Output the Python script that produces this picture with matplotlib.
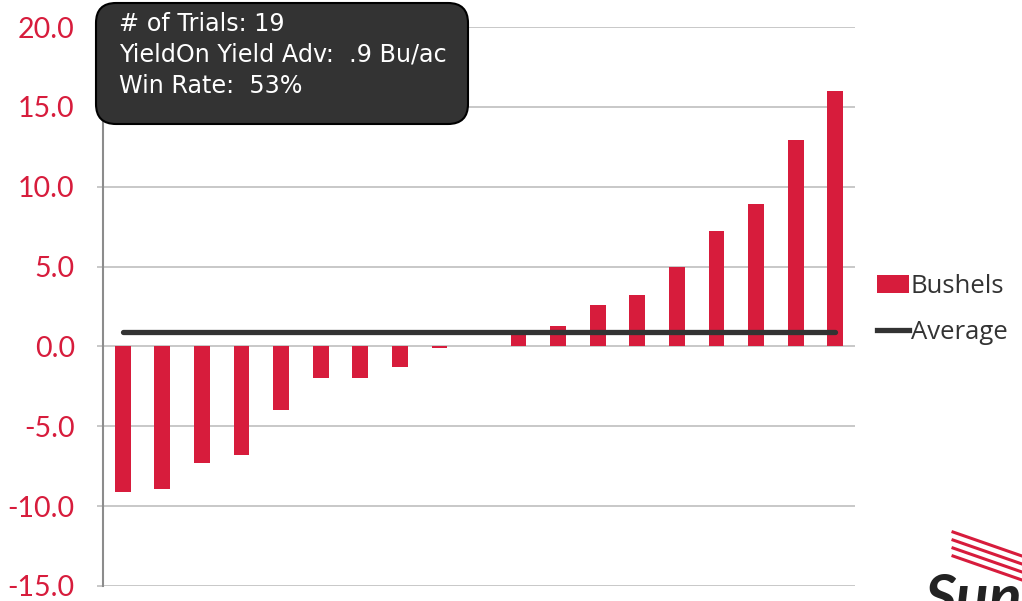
"""Yield advantage by trial: sorted bars with average line."""

import matplotlib.pyplot as plt
from matplotlib.patches import FancyBboxPatch, Patch
from matplotlib.lines import Line2D
from matplotlib.transforms import IdentityTransform

# data (bu/ac difference per trial, sorted)
trials = list(range(1, 20))
bushels = [-9.1, -8.9, -7.3, -6.8, -4.0, -2.0, -2.0, -1.3, -0.1, 0.0,
           0.9, 1.3, 2.6, 3.2, 5.0, 7.2, 8.9, 12.9, 16.0]
average = 0.9
y_ticks = [-15, -10, -5, 0, 5, 10, 15, 20]
info_lines = ["# of Trials: 19", "YieldOn Yield Adv:  .9 Bu/ac", "Win Rate:  53%"]

RED = "#D71C3C"
DARK = "#333333"
GRID = "#BFBFBF"

plt.rcParams["font.family"] = ["Lato", "DejaVu Sans"]

fig = plt.figure(figsize=(10.22, 6.01), dpi=100)
ax = fig.add_axes([103 / 1022, 15 / 601, 752 / 1022, 559 / 601])

x = list(range(len(bushels)))
ax.bar(x, bushels, width=0.4, color=RED, zorder=2, label="Bushels")
ax.plot([x[0], x[-1]], [average] * 2, color=DARK, lw=3.8, zorder=3,
        solid_capstyle="round", label="Average")

ax.set_xlim(-0.5, len(bushels) - 0.5)
ax.set_ylim(y_ticks[0], y_ticks[-1])
ax.set_yticks(y_ticks)
ax.set_yticklabels([f"{v:.1f}" for v in y_ticks], color=RED, fontsize=20.5)
ax.set_xticks([])
ax.yaxis.grid(True, color=GRID, lw=1.2, zorder=0)
ax.tick_params(axis="y", length=4.3, color=GRID, width=1.2, pad=16)
for side in ["top", "right", "bottom"]:
    ax.spines[side].set_visible(False)
ax.spines["left"].set_color("#8C8C8C")
ax.spines["left"].set_linewidth(1.5)

handles = [Patch(facecolor=RED), Line2D([], [], color=DARK, lw=3.8)]
ax.legend(handles, ["Bushels", "Average"], loc="center left",
          bbox_to_anchor=(1.029, 0.495), frameon=False,
          prop={"family": ["Open Sans", "DejaVu Sans"], "size": 18.5},
          borderpad=0, borderaxespad=0, handlelength=1.25,
          handletextpad=0.08, labelspacing=0.8, labelcolor="#333333")

# info box in the top-left corner (pixel coordinates)
box = FancyBboxPatch((96, 601 - 124), 372, 121,
                     boxstyle="round,pad=0,rounding_size=20",
                     transform=IdentityTransform(), facecolor=DARK,
                     edgecolor="black", lw=1.5, zorder=10)
fig.patches.append(box)
for i, line in enumerate(info_lines):
    fig.text(119 / 1022, 1 - (31 + 31 * i) / 601, line, color="white",
             fontsize=17.2, va="baseline", ha="left", zorder=11,
             family=["DejaVu Sans"])

# partial logo in the bottom-right corner
for k in range(4):
    fig.add_artist(Line2D([953, 1022], [601 - 532 - 8 * k, 601 - 556 - 8 * k],
                          color=RED, lw=2.2, transform=IdentityTransform()))
fig.text(924 / 1022, -0.045, "Sun", fontsize=44, fontweight="bold",
         fontstyle="italic", color="#222222", ha="left", va="bottom")

fig.savefig("out.png", dpi=100)
